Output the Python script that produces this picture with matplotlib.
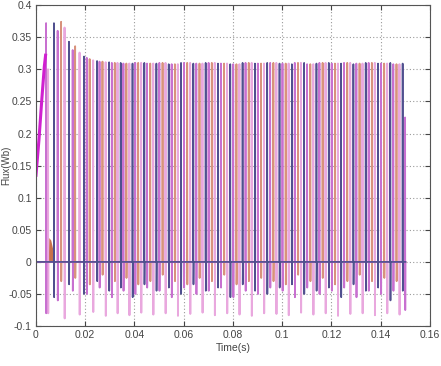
import numpy as np
import matplotlib.pyplot as plt

# spike times (s), peak flux and negative dip (Wb) for each phase
pink_t = [0.0049, 0.0116, 0.0177, 0.0232, 0.0283, 0.0331, 0.0379, 0.0427, 0.0476, 0.0526,
          0.0576, 0.0626, 0.0676, 0.0726, 0.0776, 0.0826, 0.0876, 0.0926, 0.0976, 0.1026,
          0.1076, 0.1126, 0.1176, 0.1226, 0.1276, 0.1326, 0.1376, 0.1426, 0.1476]
pink_pk = [0.300, 0.365, 0.326, 0.314, 0.311, 0.310, 0.309, 0.310, 0.309, 0.310,
           0.308, 0.310, 0.309, 0.310, 0.309, 0.308, 0.310, 0.309, 0.310, 0.309,
           0.310, 0.308, 0.310, 0.309, 0.310, 0.309, 0.310, 0.309, 0.308]
pink_lo = [-0.080, -0.088, -0.082, -0.078, -0.084, -0.080, -0.083, -0.079, -0.082, -0.080,
           -0.084, -0.081, -0.079, -0.083, -0.080, -0.082, -0.084, -0.080, -0.081, -0.083,
           -0.079, -0.082, -0.080, -0.084, -0.081, -0.080, -0.083, -0.080, -0.082]

navy_t = [0.0073, 0.0134, 0.0195, 0.0248, 0.0297, 0.0344, 0.0392, 0.0440, 0.0489, 0.0539,
          0.0589, 0.0639, 0.0689, 0.0739, 0.0789, 0.0839, 0.0889, 0.0939, 0.0989, 0.1039,
          0.1089, 0.1139, 0.1189, 0.1239, 0.1289, 0.1339, 0.1389, 0.1439, 0.1489]
navy_pk = [0.372, 0.343, 0.320, 0.313, 0.311, 0.310, 0.309, 0.310, 0.309, 0.308,
           0.310, 0.309, 0.310, 0.309, 0.308, 0.310, 0.309, 0.310, 0.309, 0.308,
           0.310, 0.309, 0.310, 0.309, 0.308, 0.310, 0.309, 0.310, 0.309]
navy_lo = [-0.055, -0.035, -0.050, -0.030, -0.045, -0.040, -0.055, -0.035, -0.045, -0.040,
           -0.050, -0.035, -0.045, -0.040, -0.055, -0.035, -0.045, -0.050, -0.040, -0.035,
           -0.050, -0.045, -0.040, -0.055, -0.035, -0.045, -0.040, -0.060, -0.045]

violet_t = [0.0041, 0.0088, 0.0149, 0.0206, 0.0258, 0.0308, 0.0355, 0.0403, 0.0451, 0.0501,
            0.0551, 0.0601, 0.0651, 0.0701, 0.0751, 0.0801, 0.0851, 0.0901, 0.0951, 0.1001,
            0.1051, 0.1101, 0.1151, 0.1201, 0.1251, 0.1301, 0.1351, 0.1401, 0.1451, 0.1499]
violet_pk = [0.372, 0.360, 0.330, 0.318, 0.312, 0.310, 0.309, 0.310, 0.309, 0.310,
             0.308, 0.310, 0.309, 0.310, 0.309, 0.308, 0.310, 0.309, 0.310, 0.309,
             0.310, 0.308, 0.310, 0.309, 0.310, 0.309, 0.310, 0.309, 0.308, 0.225]
violet_lo = [-0.080, -0.060, -0.045, -0.050, -0.040, -0.055, -0.045, -0.050, -0.040, -0.045,
             -0.055, -0.040, -0.050, -0.045, -0.040, -0.055, -0.045, -0.050, -0.040, -0.045,
             -0.055, -0.040, -0.050, -0.045, -0.040, -0.055, -0.045, -0.050, -0.045, -0.075]

orange_t = [0.0102, 0.0159, 0.0218, 0.0270, 0.0320, 0.0367, 0.0415, 0.0464, 0.0514, 0.0564,
            0.0614, 0.0664, 0.0714, 0.0764, 0.0814, 0.0864, 0.0914, 0.0964, 0.1014, 0.1064,
            0.1114, 0.1164, 0.1214, 0.1264, 0.1314, 0.1364, 0.1414, 0.1464]
orange_pk = [0.374, 0.336, 0.316, 0.312, 0.310, 0.309, 0.310, 0.309, 0.310, 0.308,
             0.310, 0.309, 0.310, 0.309, 0.308, 0.310, 0.309, 0.310, 0.309, 0.310,
             0.308, 0.310, 0.309, 0.310, 0.309, 0.310, 0.309, 0.308]
orange_lo = [-0.030, -0.025, -0.035, -0.020, -0.030, -0.025, -0.035, -0.030, -0.020, -0.030,
             -0.035, -0.025, -0.030, -0.020, -0.035, -0.030, -0.025, -0.030, -0.035, -0.020,
             -0.030, -0.025, -0.035, -0.030, -0.020, -0.030, -0.025, -0.030]

# start-up ramp of the first phase and the small orange transient
ramp_t = [0.0, 0.0012, 0.0024, 0.0034, 0.0039]
ramp_v = [0.135, 0.19, 0.255, 0.305, 0.322]
tr_t = [0.0050, 0.0052, 0.0060, 0.0068, 0.0073]
tr_v = [0.0, 0.038, 0.034, 0.020, 0.0]

x_ticks = [0, 0.02, 0.04, 0.06, 0.08, 0.1, 0.12, 0.14, 0.16]
x_labels = ['0', '0.02', '0.04', '0.06', '0.08', '0.1', '0.12', '0.14', '0.16']
y_ticks = [-0.1, -0.05, 0, 0.05, 0.1, 0.15, 0.2, 0.25, 0.3, 0.35, 0.4]
y_labels = ['-0.1', '-0.05', '0', '0.05', '0.1', '0.15', '0.2', '0.25', '0.3', '0.35', '0.4']


def spike_path(times, peaks, lows, t_end=0.15, w=0.00006):
    t = [0.0]
    v = [0.0]
    for tk, pk, lo in zip(times, peaks, lows):
        t += [tk - w, tk, tk + w, tk + 2 * w]
        v += [0.0, pk, lo, 0.0]
    if t[-1] < t_end:
        t.append(t_end)
        v.append(0.0)
    return np.array(t), np.array(v)


plt.rcParams['font.family'] = ['Liberation Sans Narrow', 'Liberation Sans', 'DejaVu Sans']

fig = plt.figure(figsize=(4.41, 3.66), dpi=100)
ax = fig.add_axes([0.0816, 0.109, 0.8934, 0.877])

phases = [
    (pink_t, pink_pk, pink_lo, '#e9a8de', 1.4),
    (orange_t, orange_pk, orange_lo, '#d8927c', 1.3),
    (violet_t, violet_pk, violet_lo, '#c870d0', 1.3),
    (navy_t, navy_pk, navy_lo, '#50508f', 1.2),
]
for times, pk, lo, col, lw in phases:
    t, v = spike_path(times, pk, lo)
    ax.plot(t, v, color=col, lw=lw)

ax.fill_between(tr_t, 0, tr_v, color='#c8704a', lw=0)
ax.plot(ramp_t, ramp_v, color='#d020d0', lw=2.2)

ax.set_xlim(0, 0.16)
ax.set_ylim(-0.1, 0.4)
ax.set_xticks(x_ticks)
ax.set_xticklabels(x_labels)
ax.set_yticks(y_ticks)
ax.set_yticklabels(y_labels)
ax.grid(True, color='#9a9a9a', linestyle=(0, (1, 2)), lw=0.8)
ax.tick_params(direction='in', top=True, right=True, length=3.5,
               labelsize=7.5, colors='#444444', pad=3)
for s in ax.spines.values():
    s.set_color('#555555')
    s.set_linewidth(0.8)

ax.set_xlabel('Time(s)', fontsize=7.5, color='#444444', labelpad=2)
ax.set_ylabel('Flux(Wb)', fontsize=7, color='#444444')
ax.yaxis.set_label_coords(-0.064, 0.5)

fig.savefig('out.png', dpi=100)
